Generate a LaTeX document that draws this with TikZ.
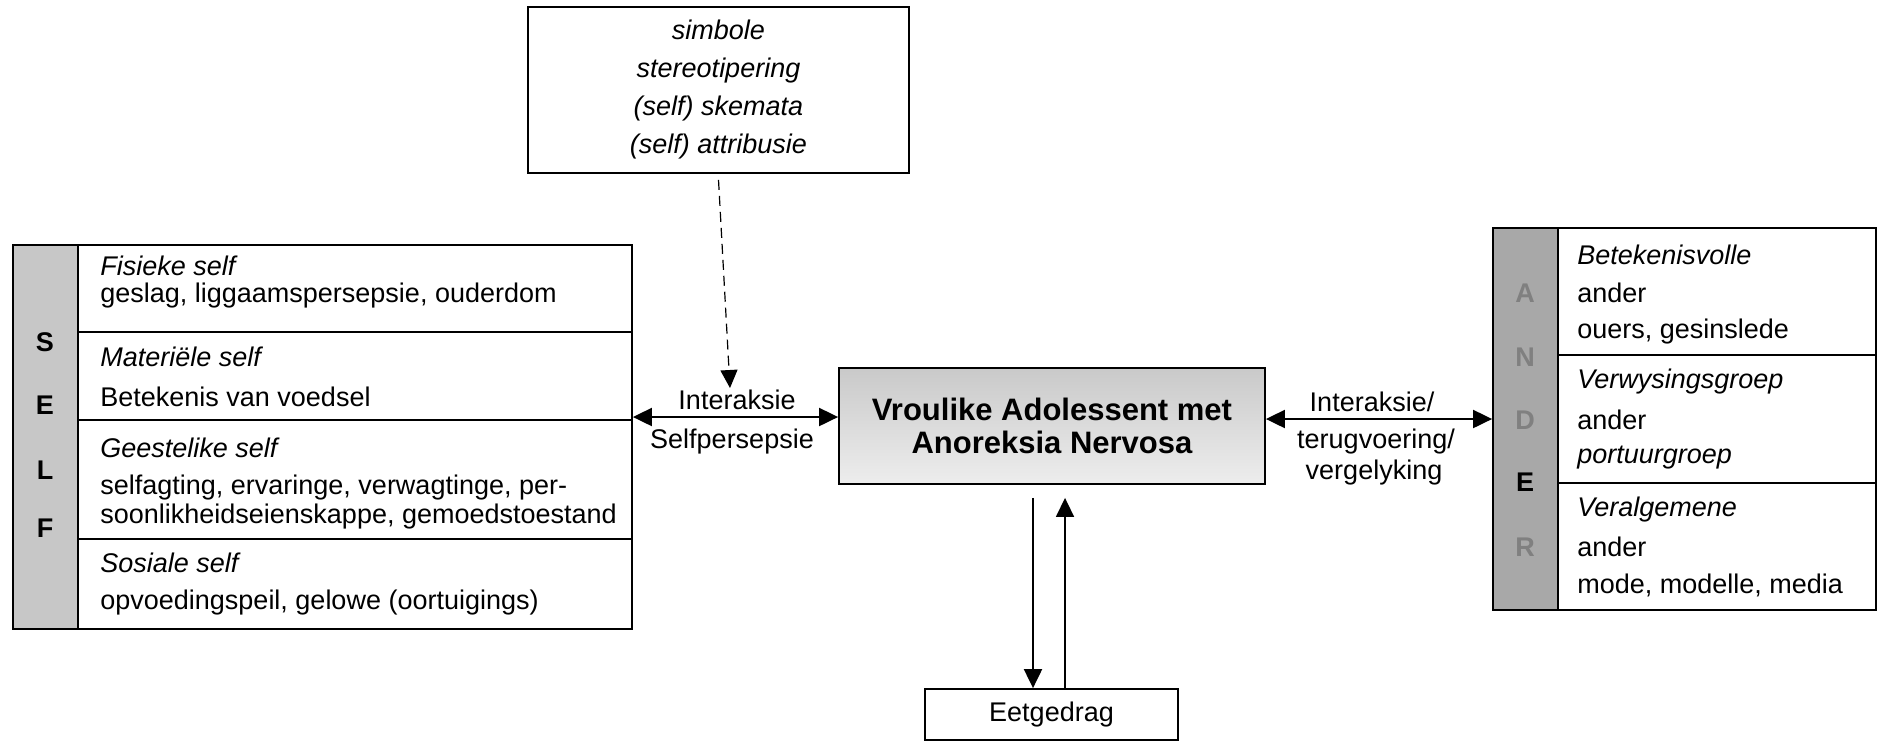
\documentclass[tikz,border=0pt]{standalone}
\usepackage{fontspec}
\setmainfont{Liberation Sans}
\usetikzlibrary{arrows.meta,calc}
\definecolor{selfgray}{gray}{0.78}
\definecolor{andergray}{gray}{0.66}
\definecolor{lettergray}{gray}{0.5}
\begin{document}
\begin{tikzpicture}[x=0.5pt,y=-0.5pt,
  box/.style={draw=black, line width=0.9pt, inner sep=0pt},
  rule/.style={draw=black, line width=0.9pt},
  txt/.style={font=\fontsize{13.5}{15}\selectfont, anchor=west, inner sep=0pt},
  head/.style={font=\fontsize{13.5}{15}\selectfont\itshape, anchor=west, inner sep=0pt},
  letter/.style={font=\fontsize{13.5}{15}\selectfont\bfseries, inner sep=0pt},
  lbl/.style={font=\fontsize{13.5}{15}\selectfont, inner sep=0pt},
  arr/.style={line width=1pt, -{Triangle[length=9.5pt,width=9pt]}},
  dbl/.style={line width=1pt, {Triangle[length=9.5pt,width=9pt]}-{Triangle[length=9.5pt,width=9pt]}},
  dsh/.style={line width=0.6pt, dash pattern=on 5pt off 3pt, -{Triangle[length=9pt,width=8.5pt]}}
]
\useasboundingbox (0,0) rectangle (1878,741);
\fill[white] (0,0) rectangle (1878,741);

% ---------- top box ----------
\node[box, minimum width=190.5pt, minimum height=83pt, align=center,
      font=\fontsize{13.5}{19}\selectfont\itshape] (top) at (718.5,90)
  {simbole\\stereotipering\\(self) skemata\\(self) attribusie};

% ---------- SELF box ----------
\fill[selfgray] (13,245) rectangle (78,629);
\node[box, minimum width=309.5pt, minimum height=192pt] (self) at (322.5,437) {};
\draw[rule] (78,245) -- (78,629);
\draw[rule] (78,332) -- (632,332);
\draw[rule] (78,420) -- (632,420);
\draw[rule] (78,539) -- (632,539);
\node[letter] (sS) at (45,342) {S};
\node[letter] (sE) at (45,405) {E};
\node[letter] (sL) at (45,470) {L};
\node[letter] (sF) at (45,528) {F};
\node[head] (s1a) at (100,266) {Fisieke self};
\node[txt]  (s1b) at (100,296) {geslag, liggaamspersepsie, ouderdom};
\node[head] (s2a) at (100,357) {Materiële self};
\node[txt]  (s2b) at (100,397) {Betekenis van voedsel};
\node[head] (s3a) at (100,448) {Geestelike self};
\node[txt]  (s3b) at (100,488) {selfagting, ervaringe, verwagtinge, per-};
\node[txt]  (s3c) at (100,517) {soonlikheidseienskappe, gemoedstoestand};
\node[head] (s4a) at (100,563) {Sosiale self};
\node[txt]  (s4b) at (100,603) {opvoedingspeil, gelowe (oortuigings)};

% ---------- ANDER box ----------
\fill[andergray] (1493,228) rectangle (1558,610);
\node[box, minimum width=191.5pt, minimum height=191pt] (ander) at (1684.5,419) {};
\draw[rule] (1558,228) -- (1558,610);
\draw[rule] (1558,355) -- (1876,355);
\draw[rule] (1558,483) -- (1876,483);
\node[letter, text=lettergray] (aA) at (1525,293) {A};
\node[letter, text=lettergray] (aN) at (1525,357) {N};
\node[letter, text=lettergray] (aD) at (1525,420) {D};
\node[letter] (aE) at (1525,482) {E};
\node[letter, text=lettergray] (aR) at (1525,547) {R};
\node[head] (a1a) at (1577,255) {Betekenisvolle};
\node[txt]  (a1b) at (1577,293) {ander};
\node[txt]  (a1c) at (1577,332) {ouers, gesinslede};
\node[head] (a2a) at (1577,382) {Verwysingsgroep};
\node[txt]  (a2b) at (1577,420) {ander};
\node[head] (a2c) at (1577,458) {portuurgroep};
\node[head] (a3a) at (1577,510) {Veralgemene};
\node[txt]  (a3b) at (1577,547) {ander};
\node[txt]  (a3c) at (1577,585) {mode, modelle, media};

% ---------- centre box ----------
\node[box, minimum width=213pt, minimum height=58pt, top color=gray!42, bottom color=gray!14,
      align=center, font=\fontsize{15.5}{16.5}\selectfont\bfseries] (centre) at (1052,426)
  {Vroulike Adolessent met\\Anoreksia Nervosa};

% ---------- Eetgedrag ----------
\node[box, minimum width=126.5pt, minimum height=25.5pt, font=\fontsize{13.5}{15}\selectfont] (eet) at (1051.5,714.5) {Eetgedrag};

% ---------- connectors ----------
\coordinate (dashend) at (730,388);
\draw[dsh] ([yshift=-3pt]top.south) -- (dashend);

\coordinate (cl) at ($(centre.west)+(0,-9)$);
\draw[dbl] (self.east |- cl) -- (cl);
\node[lbl] (li1) at (737,400) {Interaksie};
\node[lbl] (li2) at (732,442) {Selfpersepsie};

\coordinate (cr) at ($(centre.east)+(0,-7)$);
\draw[dbl] (cr) -- (ander.west |- cr);
\node[lbl] (ri1) at (1372,402) {Interaksie/};
\node[lbl] (ri2) at (1376,442) {terugvoering/};
\node[lbl] (ri3) at (1374,473) {vergelyking};

\coordinate (d1) at ($(centre.south)+(-19,13)$);
\coordinate (u1) at ($(centre.south)+(13,13)$);
\draw[arr] (d1) -- (d1 |- eet.north);
\draw[arr, line width=0.8pt] (u1 |- eet.north) -- (u1);
\end{tikzpicture}
\end{document}
